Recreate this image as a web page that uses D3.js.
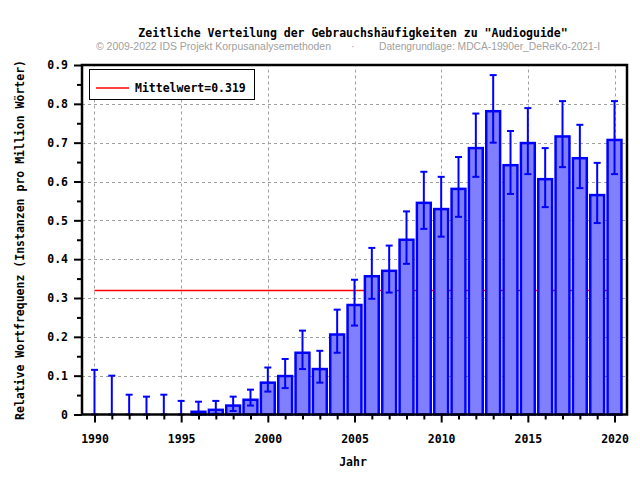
<!doctype html>
<html>
<head>
    <meta charset="utf-8">
    <style>
        body { margin: 0; background: #fff; }
        text.mono {
            font-family: 'DejaVu Sans Mono', monospace;
            font-weight: bold;
            font-size: 11.5px;
            fill: black;
        }
        text.sub {
            font-family: 'Liberation Sans', Arial, sans-serif;
            font-size: 11px;
            fill: #a0a0a0;
        }
    </style>
    <script src="https://d3js.org/d3.v7.min.js"></script>
</head>
<body>
    <script>
        // Data
        var years = d3.range(1990, 2021);
        var freq = [0, 0, 0, 0, 0, 0, 0.007, 0.012, 0.023, 0.038, 0.082,
                    0.099, 0.159, 0.117, 0.206, 0.282, 0.356, 0.370, 0.450, 0.545, 0.529,
                    0.581, 0.686, 0.781, 0.642, 0.699, 0.606, 0.716, 0.660, 0.565, 0.707];
        var errLow = [0, 0, 0, 0, 0, 0, 0, 0.002, 0.009, 0.023, 0.059,
                      0.068, 0.117, 0.082, 0.159, 0.229, 0.298, 0.314, 0.388, 0.478, 0.458,
                      0.509, 0.612, 0.700, 0.568, 0.619, 0.534, 0.637, 0.583, 0.493, 0.619];
        var errHigh = [0.115, 0.100, 0.051, 0.046, 0.051, 0.035, 0.033, 0.035, 0.046, 0.064, 0.121,
                       0.143, 0.216, 0.164, 0.270, 0.347, 0.429, 0.435, 0.523, 0.625, 0.612,
                       0.663, 0.775, 0.874, 0.730, 0.789, 0.686, 0.807, 0.746, 0.648, 0.807];
        var meanValue = 0.319;
        var yTicks = [0, 0.1, 0.2, 0.3, 0.4, 0.5, 0.6, 0.7, 0.8, 0.9];
        var xTicks = [1990, 1995, 2000, 2005, 2010, 2015, 2020];

        var data = years.map(function(y, i) {
            return { year: y, value: freq[i], lo: errLow[i], hi: errHigh[i] };
        });

        var svg = d3.select("body").append("svg").attr("width", 640).attr("height", 480);

        var x = d3.scaleLinear().domain([1989.28, 2020.72]).range([82, 627]);
        var y = d3.scaleLinear().domain([0, 0.9]).range([414.5, 65]);

        // grid
        var grid = svg.append("g").attr("stroke", "#a0a0a0").attr("stroke-width", 1)
            .attr("stroke-dasharray", "3,3");
        grid.selectAll("line.gy").data(yTicks.slice(1, -1)).enter().append("line")
            .attr("x1", x.range()[0]).attr("x2", x.range()[1])
            .attr("y1", function(d) { return Math.round(y(d)) + 0.5; })
            .attr("y2", function(d) { return Math.round(y(d)) + 0.5; });
        grid.selectAll("line.gx").data(xTicks).enter().append("line")
            .attr("y1", y.range()[0]).attr("y2", y.range()[1])
            .attr("x1", function(d) { return Math.round(x(d)) + 0.5; })
            .attr("x2", function(d) { return Math.round(x(d)) + 0.5; });

        // mean line
        svg.append("line")
            .attr("x1", x(1990)).attr("x2", x(2020))
            .attr("y1", y(meanValue)).attr("y2", y(meanValue))
            .attr("stroke", "#ff0000").attr("stroke-width", 1.5);

        // bars
        var barW = 0.8;
        svg.selectAll("rect.bar").data(data.filter(function(d) { return d.value > 0; }))
            .enter().append("rect")
            .attr("x", function(d) { return x(d.year - barW / 2); })
            .attr("width", x(barW) - x(0))
            .attr("y", function(d) { return y(d.value); })
            .attr("height", function(d) { return y(0) - y(d.value); })
            .attr("fill", "#8080ff")
            .attr("stroke", "#0000ff")
            .attr("stroke-width", 2.5);

        // error bars
        var eb = svg.append("g").attr("stroke", "#0000ff").attr("stroke-width", 2);
        var capW = 3.5;
        eb.selectAll("line.stem").data(data).enter().append("line")
            .attr("x1", function(d) { return x(d.year); })
            .attr("x2", function(d) { return x(d.year); })
            .attr("y1", function(d) { return y(d.lo); })
            .attr("y2", function(d) { return y(d.hi); });
        eb.selectAll("line.capHi").data(data).enter().append("line")
            .attr("x1", function(d) { return x(d.year) - capW; })
            .attr("x2", function(d) { return x(d.year) + capW; })
            .attr("y1", function(d) { return y(d.hi); })
            .attr("y2", function(d) { return y(d.hi); });
        eb.selectAll("line.capLo").data(data).enter().append("line")
            .attr("x1", function(d) { return x(d.year) - capW; })
            .attr("x2", function(d) { return x(d.year) + capW; })
            .attr("y1", function(d) { return y(d.lo); })
            .attr("y2", function(d) { return y(d.lo); });

        // axes
        var yAxis = svg.append("g").attr("transform", "translate(82,0)")
            .call(d3.axisLeft(y).tickValues(yTicks).tickSize(8).tickPadding(6)
                .tickFormat(function(d) { return d === 0 ? "0" : d3.format(".1f")(d); }));
        var yMinor = svg.append("g").attr("transform", "translate(82,0)")
            .call(d3.axisLeft(y).tickValues(d3.range(0.05, 0.9, 0.1)).tickSize(5).tickFormat(""));
        var xAxis = svg.append("g").attr("transform", "translate(0,414.5)")
            .call(d3.axisBottom(x).tickValues(xTicks).tickSize(8).tickPadding(12)
                .tickFormat(d3.format("d")));
        var xMinor = svg.append("g").attr("transform", "translate(0,414.5)")
            .call(d3.axisBottom(x).tickValues(years.filter(function(d) { return d % 5 !== 0; }))
                .tickSize(5).tickFormat(""));
        [yAxis, yMinor, xAxis, xMinor].forEach(function(a) {
            a.select(".domain").remove();
            a.selectAll(".tick line").attr("stroke", "black").attr("stroke-width", 2);
            a.selectAll(".tick text").attr("class", "mono").attr("font-size", null)
                .attr("font-family", null);
        });

        // frame
        svg.append("rect")
            .attr("x", 82).attr("y", 65)
            .attr("width", 627 - 82).attr("height", 414.5 - 65)
            .attr("fill", "none").attr("stroke", "black").attr("stroke-width", 2.5);

        // legend
        svg.append("rect").attr("x", 89.5).attr("y", 69.5).attr("width", 165).attr("height", 30)
            .attr("fill", "white").attr("stroke", "black").attr("stroke-width", 1);
        svg.append("line").attr("x1", 96).attr("x2", 129).attr("y1", 88).attr("y2", 88)
            .attr("stroke", "#ff0000").attr("stroke-width", 1.5);
        svg.append("text").attr("class", "mono").attr("x", 135).attr("y", 92)
            .text("Mittelwert=" + meanValue);

        // titles
        svg.append("text").attr("class", "mono").attr("x", 353).attr("y", 37)
            .attr("text-anchor", "middle")
            .text("Zeitliche Verteilung der Gebrauchshäufigkeiten zu \"Audioguide\"");
        svg.append("text").attr("class", "sub").attr("x", 96).attr("y", 50)
            .attr("textLength", 235).attr("lengthAdjust", "spacingAndGlyphs")
            .text("© 2009-2022 IDS Projekt Korpusanalysemethoden");
        svg.append("text").attr("class", "sub").attr("x", 351).attr("y", 50).text("·");
        svg.append("text").attr("class", "sub").attr("x", 379).attr("y", 50)
            .attr("textLength", 221).attr("lengthAdjust", "spacingAndGlyphs")
            .text("Datengrundlage: MDCA-1990er_DeReKo-2021-I");
        svg.append("text").attr("class", "mono").attr("x", 353).attr("y", 466)
            .attr("text-anchor", "middle").text("Jahr");
        svg.append("text").attr("class", "mono")
            .attr("transform", "translate(24,240) rotate(-90)")
            .attr("text-anchor", "middle")
            .text("Relative Wortfrequenz (Instanzen pro Million Wörter)");
    </script>
</body>
</html>
